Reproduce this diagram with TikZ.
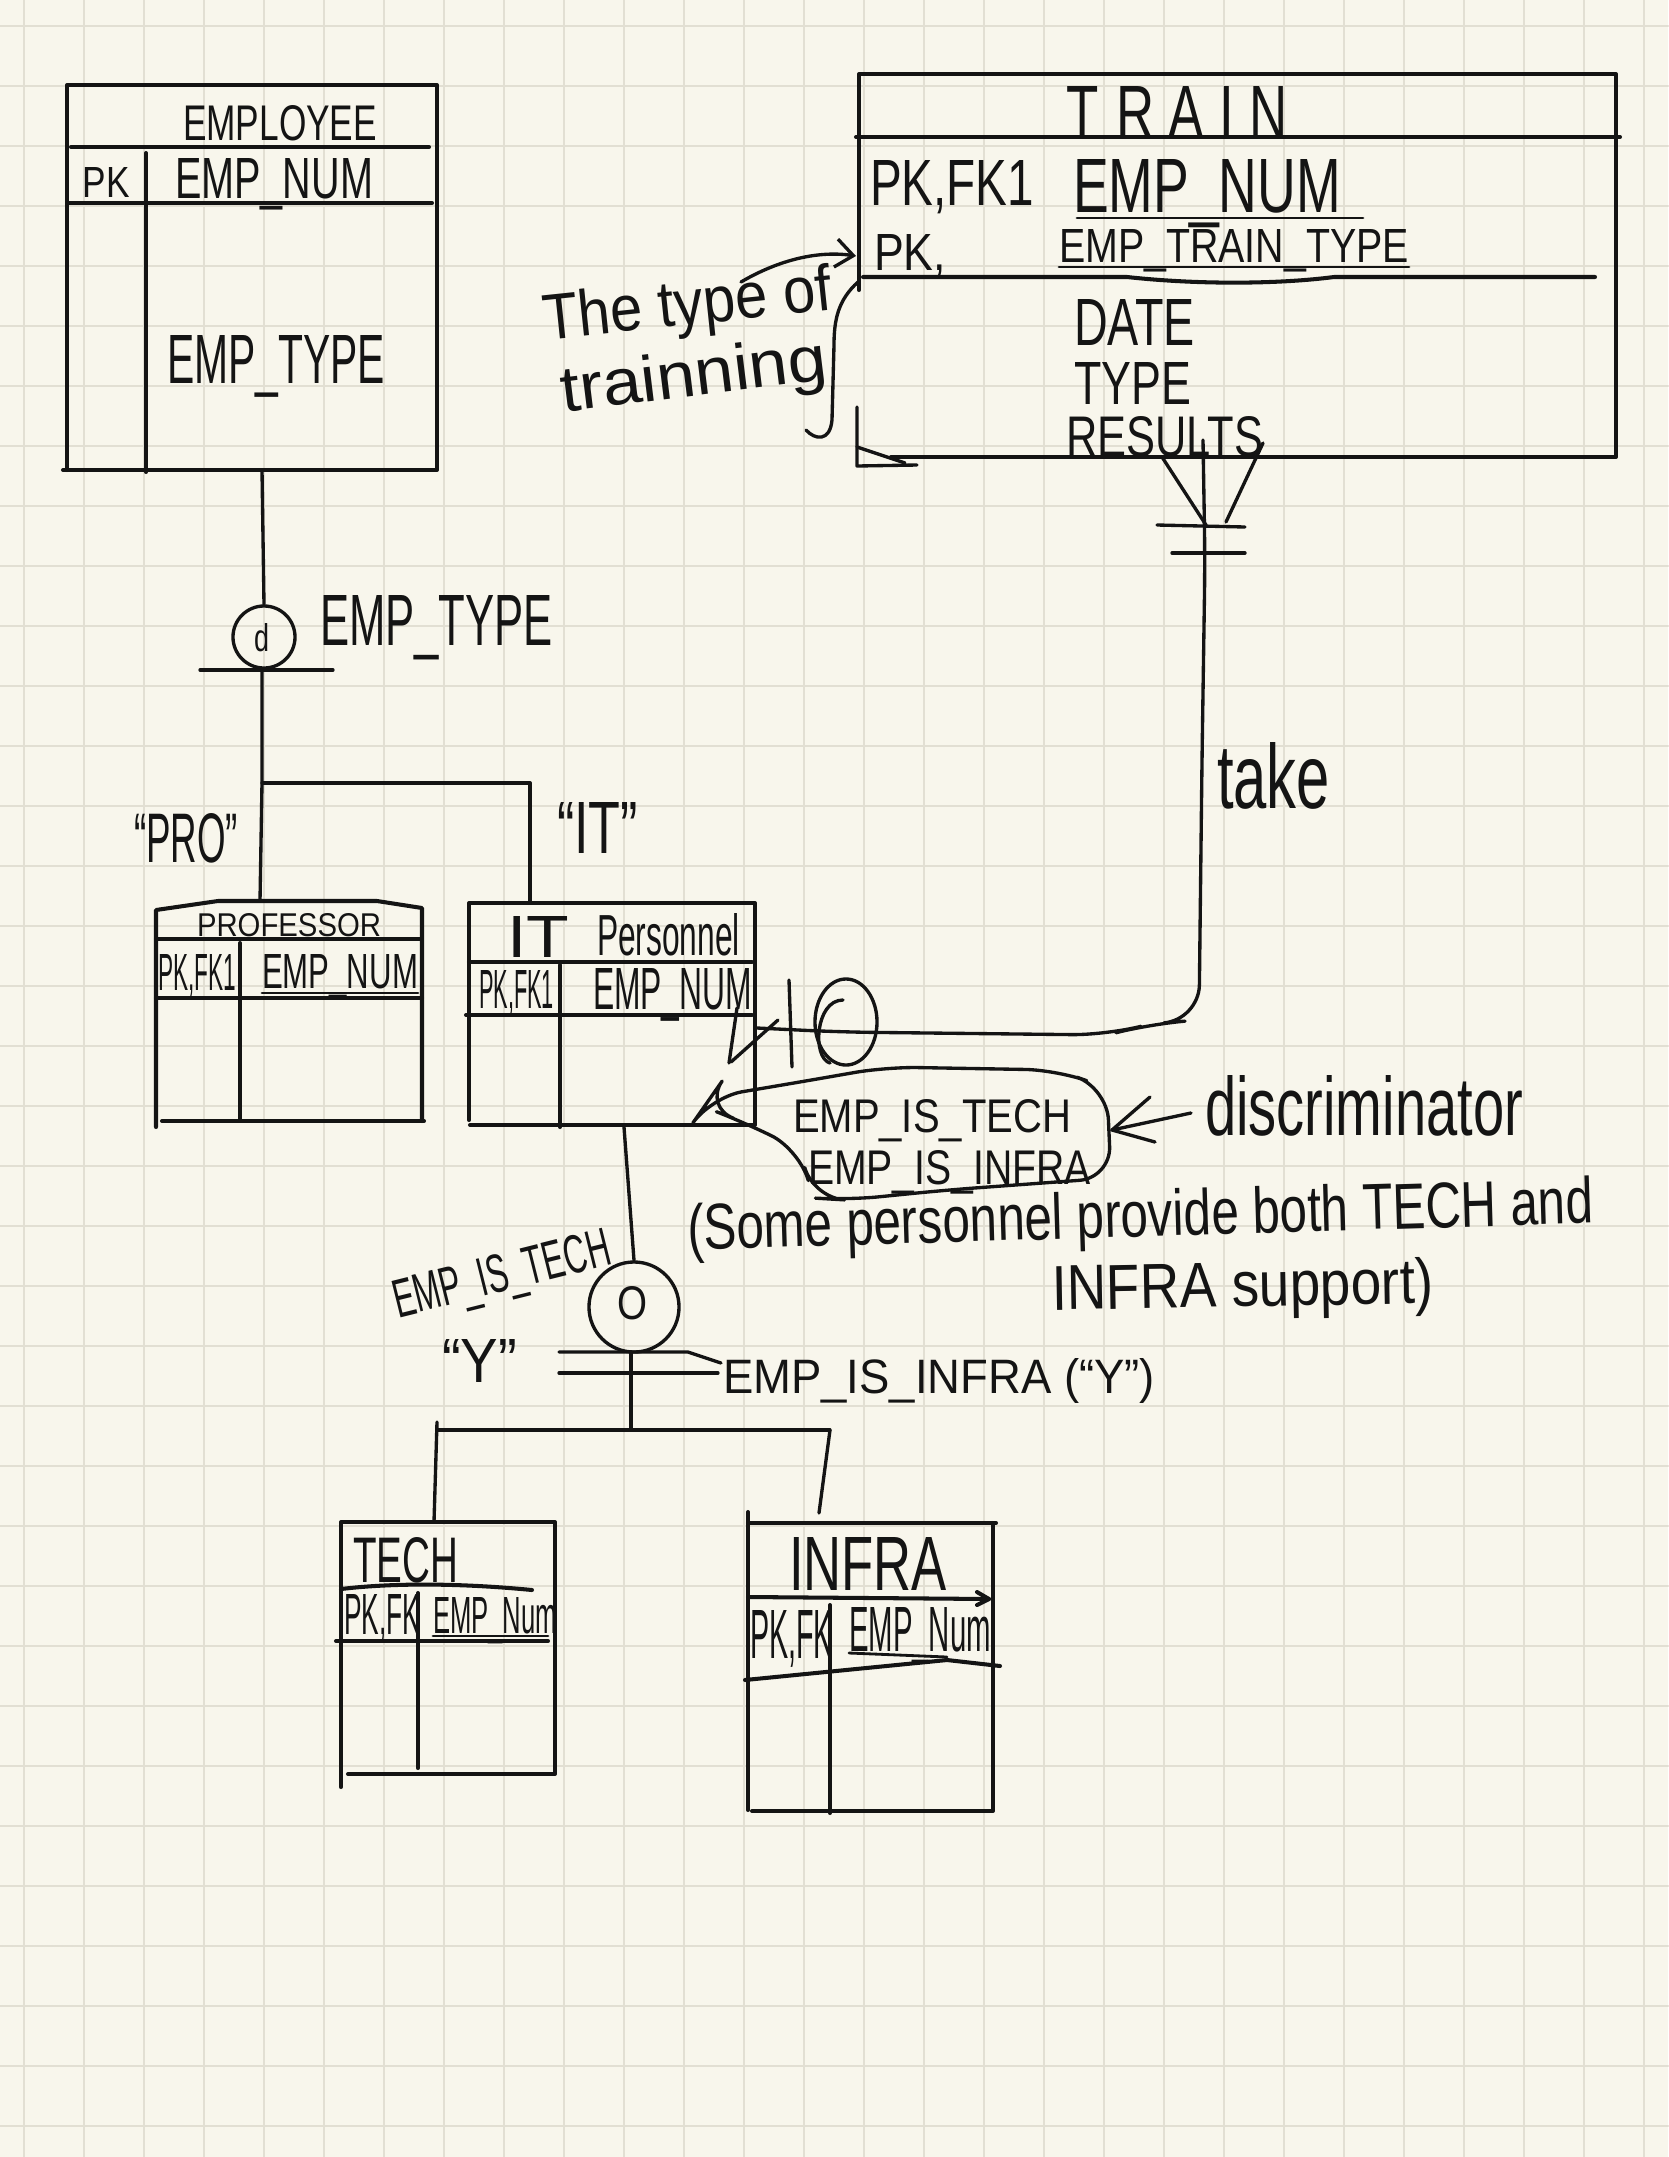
\documentclass[tikz,border=0pt]{standalone}
\usepackage{fontspec}
\usepackage{graphicx}
\setmainfont{Liberation Sans}
\usetikzlibrary{arrows.meta,shapes.geometric}
\newlength\pxu
\setlength\pxu{0.01cm}
\newcommand\hw[3]{\resizebox{#1\pxu}{#2\pxu}{#3}}
\definecolor{paper}{HTML}{F8F6EC}
\definecolor{gridc}{HTML}{E2DFD3}
\definecolor{ink}{HTML}{141414}
\begin{document}
\begin{tikzpicture}[x=0.01cm,y=-0.01cm,line cap=round,line join=round,
  box/.style={draw=ink,line width=1.15pt},
  con/.style={draw=ink,line width=0.95pt},
  thinl/.style={draw=ink,line width=0.8pt},
  txt/.style={inner sep=0pt,outer sep=0pt,anchor=base west,text=ink},
  ctxt/.style={inner sep=0pt,outer sep=0pt,anchor=center,text=ink},
  gridl/.style={draw=gridc,line width=0.8pt}]
\fill[paper] (0,0) rectangle (1668,2157);
\useasboundingbox (0,0) rectangle (1668,2157);
\foreach \gx in {24,84,...,1644} \draw[gridl] (\gx,0) -- (\gx,2157);
\foreach \gy in {26,86,...,2126} \draw[gridl] (0,\gy) -- (1668,\gy);

% ---------------- EMPLOYEE
\draw[box] (67,470) -- (67,85) -- (437,85) -- (437,470) -- (63,470);
\draw[box] (71,147) -- (429,147);
\draw[box] (68,203) -- (432,203);
\draw[box] (146,153) -- (146,472);
\node[txt] (empT) at (183,140) {\hw{194}{35}{EMPLOYEE}};
\node[txt] (empPK) at (83,197) {\hw{47}{30}{PK}};
\node[txt] (empNum) at (175,198) {\hw{198}{40}{EMP\_NUM}};
\node[txt] (empType) at (167,383) {\hw{218}{48}{EMP\_TYPE}};
\coordinate (empB) at (262,470);

% ---------------- disjoint subtype symbol
\node[circle,con,minimum size=0.62cm,inner sep=0pt] (dC) at (264,637) {};
\node[ctxt] (dL) at (262,638) {\hw{15}{28}{d}};
\draw[con] (empB) -- (dC.north);
\coordinate (dBarL) at (200,670);
\coordinate (dBarR) at (333,670);
\coordinate (dBarM) at (262,672);
\draw[con] (dBarL) -- (dBarR);
\node[txt] (dType) at (320,645) {\hw{233}{50}{EMP\_TYPE}};
\coordinate (dBr) at (262,783);
\coordinate (dBrR) at (530,783);
\coordinate (profTop) at (260,901);
\coordinate (itTop) at (530,903);
\draw[con] (dBarM) -- (dBr) -- (profTop);
\draw[con] (dBr) -- (dBrR) -- (itTop);
\node[txt] (proL) at (134,862) {\hw{104}{49}{“PRO”}};
\node[txt] (itL) at (557,853) {\hw{81}{51}{“IT”}};

% ---------------- PROFESSOR
\draw[box] (156,1127) -- (156,910) -- (218,901) -- (377,901) -- (422,908) -- (422,1121);
\draw[box] (162,1121) -- (424,1121);
\draw[box] (156,939) -- (420,939);
\draw[box] (156,998) -- (422,998);
\draw[box] (240,943) -- (240,1120);
\node[txt] (profT) at (197,936) {\hw{184}{23}{PROFESSOR}};
\node[txt] (profPK) at (158,990) {\hw{78}{36}{PK,FK1}};
\node[txt] (profNum) at (262,988) {\hw{156}{34}{EMP\_NUM}};
\draw[thinl] (262,993) -- (418,993);

% ---------------- IT Personnel
\draw[box] (469,1120) -- (469,903) -- (755,903) -- (755,1125) -- (470,1125);
\draw[box] (469,962) -- (752,962);
\draw[box] (466,1015) -- (752,1015);
\draw[box] (560,965) -- (560,1127);
\node[txt] (itT1) at (507,957) {\hw{62}{41}{IT}};
\node[txt] (itT2) at (597,955) {\hw{143}{42}{Personnel}};
\node[txt] (itPK) at (479,1008) {\hw{75}{38}{PK,FK1}};
\node[txt] (itNum) at (593,1009) {\hw{159}{41}{EMP\_NUM}};
\coordinate (itB) at (624,1127);
\coordinate (itR) at (757,1028);

% ---------------- TRAIN
\draw[box] (859,290) -- (859,74) -- (1616,74) -- (1616,457) -- (891,457);
\draw[box] (856,137) -- (1620,137);
\draw[box] (863,277) -- (1127,277) .. controls (1200,285) and (1280,284) .. (1334,277) -- (1595,277);
\node[txt] (trT) at (1066,138) {\hw{222}{52}{T\hspace{0.35em}R\hspace{0.25em}A\hspace{0.3em}I\hspace{0.3em}N}};
\node[txt] (trPK1) at (870,205) {\hw{164}{45}{PK,FK1}};
\node[txt] (trNum) at (1073,212) {\hw{268}{53}{EMP\_NUM}};
\draw[thinl] (1077,218) -- (1363,218);
\node[txt] (trPK2) at (874,270) {\hw{72}{36}{PK,}};
\node[txt] (trTT) at (1059,262) {\hw{350}{33}{EMP\_TRAIN\_TYPE}};
\draw[thinl] (1059,267) -- (1409,267);
\node[txt] (trDate) at (1074,345) {\hw{121}{46}{DATE}};
\node[txt] (trType) at (1074,404) {\hw{117}{42}{TYPE}};
\node[txt] (trRes) at (1066,456) {\hw{197}{40}{RESULTS}};

% annotation on TRAIN
\node[txt,rotate=6] (ann1) at (545,340) {\hw{290}{47}{The type of}};
\node[txt,rotate=7] (ann2) at (563,412) {\hw{268}{47}{trainning}};
\coordinate (annA) at (741,282);
\coordinate (annB) at (856,256);
\draw[con,-{Straight Barb[length=5pt,width=8pt]}] (annA) .. controls (775,262) and (815,250) .. (annB);
\coordinate (brT) at (858,282);
\coordinate (brB) at (806,430);
\draw[con] (brT) .. controls (838,300) and (834,320) .. (834,345) -- (832,420) .. controls (830,442) and (815,440) .. (brB);
\coordinate (lT) at (857,407);
\coordinate (lB) at (857,466);
\coordinate (lR) at (917,465);
\draw[con] (lT) -- (lB) -- (lR);
\draw[con] (857,447) -- (905,463);

% ---------------- relationship take (crow's foot at TRAIN)
\coordinate (cfL) at (1162,457);
\coordinate (cfR) at (1263,443);
\coordinate (cfM) at (1206,525);
\draw[con] (cfL) -- (cfM);
\draw[con] (cfR) -- (1226,522);
\draw[con] (1157,525) -- (1245,527);
\draw[con] (1172,553) -- (1245,553);
\coordinate (trB) at (1203,440);
\coordinate (tkC) at (1199,1020);
\draw[con,rounded corners=10pt] (trB) -- (1205,560) -- (1202,760) -- (tkC) -- (1150,1024) -- (1107,1035) -- (839,1032) -- (itR);
\node[txt] (take) at (1217,808) {\hw{113}{66}{take}};
% marks at IT Personnel side
\draw[con] (737,1008) -- (729,1063);
\draw[con] (731,1062) -- (778,1020);
\draw[con] (789,980) -- (792,1067);
\node[ellipse,con,minimum width=0.62cm,minimum height=0.86cm,inner sep=0pt] (optC) at (846,1022) {};
\draw[con] (843,1000) .. controls (815,1000) and (812,1058) .. (830,1063);

% ---------------- discriminator bubble
\draw[con,rounded corners=9pt] (711,1097) -- (800,1082) -- (886,1067) -- (1057,1070) -- (1107,1088) -- (1111,1178) -- (947,1190) -- (847,1200) -- (813,1198) -- (800,1150) -- (746,1123) -- (704,1107) -- cycle;
\node[txt] (disc1) at (793,1132) {\hw{278}{33}{EMP\_IS\_TECH}};
\node[txt] (disc2) at (808,1184) {\hw{283}{34}{EMP\_IS\_INFRA}};
\node[txt] (discL) at (1205,1135) {\hw{318}{60}{discriminator}};
\coordinate (dA) at (1191,1113);
\coordinate (dTip) at (1112,1130);
\draw[con] (dA) -- (dTip);
\draw[con] (1150,1097) -- (dTip) -- (1155,1142);
\node[txt,rotate=1.7] (note1) at (688,1250) {\hw{906}{47}{(Some personnel provide both TECH and}};
\node[txt,rotate=1] (note2) at (1052,1310) {\hw{382}{46}{INFRA support)}};

% ---------------- overlapping subtype symbol
\node[circle,con,minimum size=0.90cm,inner sep=0pt] (oC) at (634,1307) {};
\node[ctxt] (oL) at (632,1303) {\hw{30}{33}{O}};
\draw[con] (itB) -- (oC.north);
\draw[con] (559,1352) -- (688,1352) -- (721,1363);
\draw[con] (559,1373) -- (718,1373);
\node[txt] (infraL) at (723,1393) {\hw{432}{35}{EMP\_IS\_INFRA (“Y”)}};
\node[txt,rotate=14] (techL) at (398,1318) {\hw{222}{38}{EMP\_IS\_TECH}};
\node[txt] (techY) at (442,1382) {\hw{75}{43}{“Y”}};
\coordinate (oB) at (631,1352);
\coordinate (oBr) at (631,1430);
\coordinate (oBrL) at (437,1430);
\coordinate (oBrR) at (830,1430);
\coordinate (techTop) at (434,1522);
\coordinate (infraTop) at (819,1513);
\draw[con] (oB) -- (oBr);
\draw[con] (oBrL) -- (oBrR);
\draw[con] (437,1422) -- (techTop);
\draw[con] (oBrR) -- (infraTop);

% ---------------- TECH
\draw[box] (341,1787) -- (341,1522) -- (555,1522) -- (555,1774) -- (348,1774);
\draw[box] (341,1589) .. controls (400,1582) and (470,1584) .. (532,1590);
\draw[box] (336,1641) -- (548,1641);
\draw[box] (418,1593) -- (418,1768);
\node[txt] (techT) at (353,1582) {\hw{105}{45}{TECH}};
\node[txt] (techPK) at (344,1634) {\hw{76}{40}{PK,FK}};
\node[txt] (techNum) at (433,1633) {\hw{124}{36}{EMP\_Num}};
\draw[thinl] (433,1636) -- (548,1636);

% ---------------- INFRA
\draw[box] (748,1512) -- (748,1810);
\draw[box] (748,1523) -- (996,1523);
\draw[box] (993,1523) -- (993,1811) -- (752,1811);
\draw[box] (748,1597) -- (989,1599);
\draw[box] (977,1592) -- (989,1599) -- (977,1605);
\draw[box] (745,1680) -- (947,1660) -- (1000,1666);
\draw[box] (830,1605) -- (830,1813);
\node[txt] (infraT) at (789,1590) {\hw{158}{53}{INFRA}};
\node[txt] (infraPK) at (750,1658) {\hw{83}{48}{PK,FK}};
\node[txt] (infraNum) at (849,1651) {\hw{142}{44}{EMP\_Num}};
\draw[thinl] (849,1653) -- (947,1657);
\end{tikzpicture}
\end{document}
